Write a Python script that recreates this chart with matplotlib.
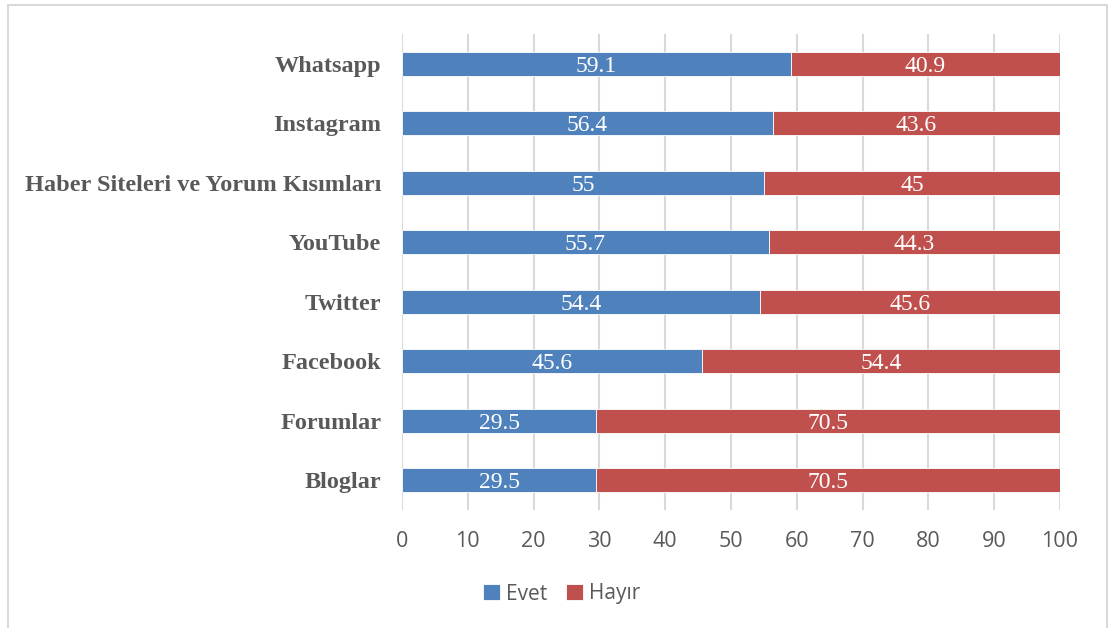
import matplotlib.pyplot as plt
from matplotlib.patches import Rectangle
import numpy as np

# Data (top to bottom as shown)
categories = ['Whatsapp', 'Instagram', 'Haber Siteleri ve Yorum Kısımları', 'YouTube',
              'Twitter', 'Facebook', 'Forumlar', 'Bloglar']
evet = [59.1, 56.4, 55, 55.7, 54.4, 45.6, 29.5, 29.5]
hayir = [40.9, 43.6, 45, 44.3, 45.6, 54.4, 70.5, 70.5]
series_names = ['Evet', 'Hayır']
xticks = [0, 10, 20, 30, 40, 50, 60, 70, 80, 90, 100]

blue = '#4f81bd'
red = '#c0504d'
grey_txt = '#595959'
grid_col = '#d9d9d9'

fig = plt.figure(figsize=(11.09, 6.28), dpi=100)
ax = fig.add_axes([402 / 1109, 1 - 510 / 628, 658 / 1109, 476 / 628])

y = np.arange(len(categories))
h = 0.4
b1 = ax.barh(y, evet, h, color=blue, edgecolor='white', linewidth=0.6, label=series_names[0], zorder=3)
b2 = ax.barh(y, hayir, h, left=evet, color=red, edgecolor='white', linewidth=0.6, label=series_names[1], zorder=3)

# value labels in the middle of each segment
for rects in (b1, b2):
    for r in rects:
        w = r.get_width()
        ax.text(r.get_x() + w / 2, r.get_y() + r.get_height() / 2, '{:g}'.format(w),
                ha='center', va='center_baseline', color='white', fontsize=17,
                family='Liberation Serif', zorder=4)

ax.set_ylim(len(categories) - 0.5, -0.5)
ax.set_xlim(0, 100)
ax.set_xticks(xticks)
ax.set_yticks(y)
ax.set_yticklabels(categories, fontsize=17.5, fontweight='bold', family='Liberation Serif', color=grey_txt)
for lbl in ax.get_xticklabels():
    lbl.set_family('Open Sans')
    lbl.set_fontsize(15.5)
    lbl.set_color(grey_txt)
ax.tick_params(axis='both', length=0)
ax.tick_params(axis='y', pad=15)
ax.tick_params(axis='x', pad=15)
ax.grid(axis='x', color=grid_col, linewidth=1.5, zorder=0)
for s in ax.spines.values():
    s.set_visible(False)

leg = fig.legend(handles=[b1, b2], labels=series_names, loc='center', bbox_to_anchor=(562 / 1109, 1 - 594 / 628),
                 ncol=2, frameon=False, handlelength=0.8, handleheight=0.8, handletextpad=0.3,
                 columnspacing=0.9, prop={'family': 'Open Sans', 'size': 15})
for t in leg.get_texts():
    t.set_color(grey_txt)

# outer border
fig.patches.append(Rectangle((8 / 1109, -0.01), 1099 / 1109, 1.01 - 5 / 628, transform=fig.transFigure,
                             fill=False, edgecolor=grid_col, linewidth=1.5))

plt.savefig('out.png', dpi=100)
